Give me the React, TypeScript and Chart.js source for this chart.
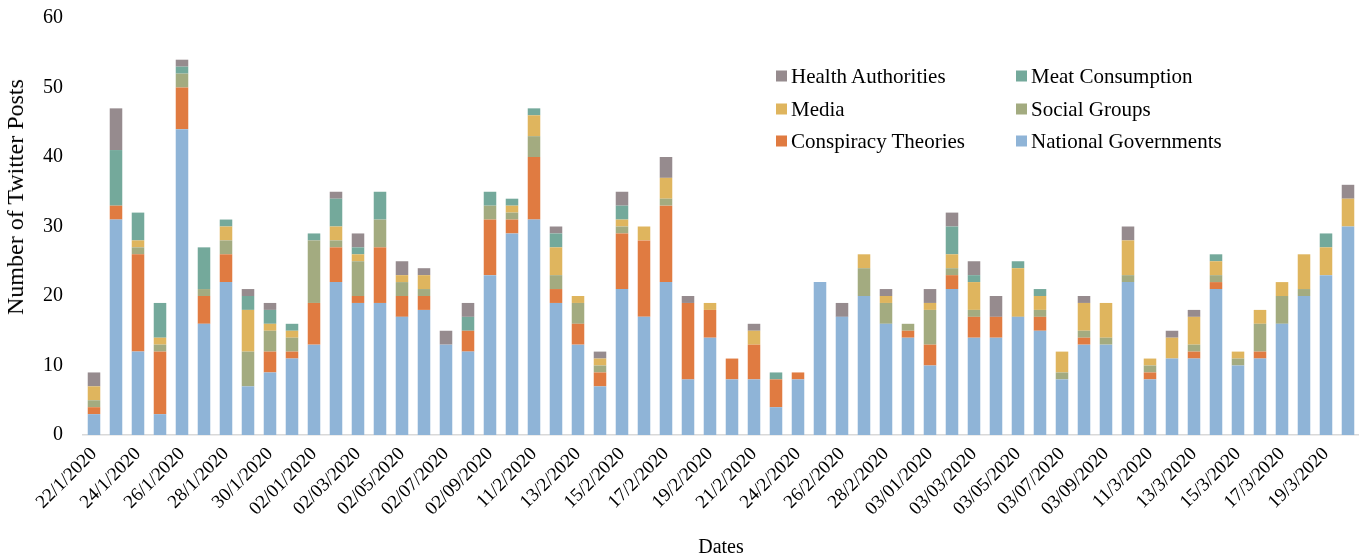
import React, { useEffect, useRef } from "react";
import { Chart, registerables } from "chart.js";

Chart.register(...registerables);

const dates = [
  "22/1/2020", "23/1/2020", "24/1/2020", "25/1/2020", "26/1/2020", "27/1/2020", "28/1/2020", "29/1/2020",
  "30/1/2020", "31/1/2020", "02/01/2020", "02/02/2020", "02/03/2020", "02/04/2020", "02/05/2020", "02/06/2020",
  "02/07/2020", "02/08/2020", "02/09/2020", "02/10/2020", "11/2/2020", "02/12/2020", "13/2/2020", "14/2/2020",
  "15/2/2020", "16/2/2020", "17/2/2020", "18/2/2020", "19/2/2020", "20/2/2020", "21/2/2020", "22/2/2020",
  "24/2/2020", "25/2/2020", "26/2/2020", "27/2/2020", "28/2/2020", "29/2/2020", "03/01/2020", "03/02/2020",
  "03/03/2020", "03/04/2020", "03/05/2020", "03/06/2020", "03/07/2020", "03/08/2020", "03/09/2020", "03/10/2020",
  "11/3/2020", "03/12/2020", "13/3/2020", "14/3/2020", "15/3/2020", "16/3/2020", "17/3/2020", "18/3/2020",
  "19/3/2020", "20/3/2020",
];

const nationalGovernments = [3, 31, 12, 3, 44, 16, 22, 7, 9, 11, 13, 22, 19, 19, 17, 18, 13, 12, 23, 29, 31, 19, 13, 7, 21, 17, 22, 8, 14, 8, 8, 4, 8, 22, 17, 20, 16, 14, 10, 21, 14, 14, 17, 15, 8, 13, 13, 22, 8, 11, 11, 21, 10, 11, 16, 20, 23, 30];
const conspiracyTheories = [1, 2, 14, 9, 6, 4, 4, 0, 3, 1, 6, 5, 1, 8, 3, 2, 0, 3, 8, 2, 9, 2, 3, 2, 8, 11, 11, 11, 4, 3, 5, 4, 1, 0, 0, 0, 0, 1, 3, 2, 3, 3, 0, 2, 0, 1, 0, 0, 1, 0, 1, 1, 0, 1, 0, 0, 0, 0];
const socialGroups = [1, 0, 1, 1, 2, 1, 2, 5, 3, 2, 9, 1, 5, 4, 2, 1, 0, 0, 2, 1, 3, 2, 3, 1, 1, 0, 1, 0, 0, 0, 0, 0, 0, 0, 0, 4, 3, 1, 5, 1, 1, 0, 0, 1, 1, 1, 1, 1, 1, 0, 1, 1, 1, 4, 4, 1, 0, 0];
const media = [2, 0, 1, 1, 0, 0, 2, 6, 1, 1, 0, 2, 1, 0, 1, 2, 0, 0, 0, 1, 3, 4, 1, 1, 1, 2, 3, 0, 1, 0, 2, 0, 0, 0, 0, 2, 1, 0, 1, 2, 4, 0, 7, 2, 3, 4, 5, 5, 1, 3, 4, 2, 1, 2, 2, 5, 4, 4];
const meatConsumption = [0, 8, 4, 5, 1, 6, 1, 2, 2, 1, 1, 4, 1, 4, 0, 0, 0, 2, 2, 1, 1, 2, 0, 0, 2, 0, 0, 0, 0, 0, 0, 1, 0, 0, 0, 0, 0, 0, 0, 4, 1, 0, 1, 1, 0, 0, 0, 0, 0, 0, 0, 1, 0, 0, 0, 0, 2, 0];
const healthAuthorities = [2, 6, 0, 0, 1, 0, 0, 1, 1, 0, 0, 1, 2, 0, 2, 1, 2, 2, 0, 0, 0, 1, 0, 1, 2, 0, 3, 1, 0, 0, 1, 0, 0, 0, 2, 0, 1, 0, 2, 2, 2, 3, 0, 0, 0, 1, 0, 2, 0, 1, 1, 0, 0, 0, 0, 0, 0, 2];

const yTicks = [0, 10, 20, 30, 40, 50, 60];

const SERIES = [
  { label: "National Governments", data: nationalGovernments, color: "#8fb4d7" },
  { label: "Conspiracy Theories", data: conspiracyTheories, color: "#e07b41" },
  { label: "Social Groups", data: socialGroups, color: "#a3ab80" },
  { label: "Media", data: media, color: "#dfb55e" },
  { label: "Meat Consumption", data: meatConsumption, color: "#74a99b" },
  { label: "Health Authorities", data: healthAuthorities, color: "#968b8e" },
];

const LEGEND = [
  { label: "Health Authorities", color: "#968b8e", x: 776, y: 76 },
  { label: "Meat Consumption", color: "#74a99b", x: 1016, y: 76 },
  { label: "Media", color: "#dfb55e", x: 776, y: 109 },
  { label: "Social Groups", color: "#a3ab80", x: 1016, y: 109 },
  { label: "Conspiracy Theories", color: "#e07b41", x: 776, y: 141 },
  { label: "National Governments", color: "#8fb4d7", x: 1016, y: 141 },
];

const FONT = "'Liberation Serif', 'Times New Roman', serif";

export default function App() {
  const ref = useRef<HTMLCanvasElement | null>(null);

  useEffect(() => {
    if (!ref.current) return;
    const chart = new Chart(ref.current, {
      type: "bar",
      data: {
        labels: dates,
        datasets: SERIES.map((s) => ({
          label: s.label,
          data: s.data,
          backgroundColor: s.color,
          borderWidth: 0,
          barPercentage: 0.57,
          categoryPercentage: 1,
        })),
      },
      options: {
        animation: false,
        responsive: true,
        maintainAspectRatio: false,
        layout: { padding: { left: 0, right: 0, top: 18, bottom: 0 } },
        plugins: {
          legend: { display: false },
          tooltip: { enabled: false },
          title: { display: false },
        },
        scales: {
          x: {
            stacked: true,
            grid: { display: false, drawTicks: false },
            border: { display: true, color: "#d9d9d9", width: 1.5 },
            ticks: {
              autoSkip: false,
              maxRotation: 45,
              minRotation: 45,
              padding: 8,
              color: "#000",
              font: { family: FONT, size: 19 },
              callback: (_v: any, i: number) => (i % 2 === 0 ? dates[i] : ""),
            },
            title: {
              display: true,
              text: "Dates",
              color: "#000",
              font: { family: FONT, size: 20, lineHeight: 1 },
              padding: { top: 0, bottom: 0 },
            },
            afterFit: (scale: any) => {
              scale.height = 123;
              scale.paddingLeft = 0;
              scale.paddingRight = 0;
            },
          },
          y: {
            stacked: true,
            min: 0,
            max: 60,
            grid: { display: false, drawTicks: false },
            border: { display: false },
            afterBuildTicks: (scale: any) => {
              scale.ticks = yTicks.map((v) => ({ value: v }));
            },
            ticks: {
              padding: 20,
              color: "#000",
              font: { family: FONT, size: 20 },
            },
            afterFit: (scale: any) => {
              scale.width = 83;
              scale.paddingTop = 0;
              scale.paddingBottom = 0;
            },
          },
        },
      },
    });
    return () => chart.destroy();
  }, []);

  return (
    <div style={{ position: "fixed", left: 0, top: 0, width: 1359, height: 558, background: "#fff", fontFamily: FONT }}>
      <canvas ref={ref} />
      <div
        style={{
          position: "absolute",
          left: 15,
          top: 197,
          transform: "translate(-50%, -50%) rotate(-90deg)",
          whiteSpace: "nowrap",
          fontSize: 24,
          color: "#000",
          lineHeight: 1,
        }}
      >
        Number of Twitter Posts
      </div>
      {LEGEND.map((l) => (
        <div
          key={l.label}
          style={{
            position: "absolute",
            left: l.x,
            top: l.y,
            transform: "translateY(-50%)",
            display: "flex",
            alignItems: "center",
            whiteSpace: "nowrap",
            fontSize: 21,
            color: "#000",
            lineHeight: 1,
          }}
        >
          <span style={{ display: "inline-block", width: 11, height: 11, background: l.color, marginRight: 4 }} />
          <span>{l.label}</span>
        </div>
      ))}
    </div>
  );
}
